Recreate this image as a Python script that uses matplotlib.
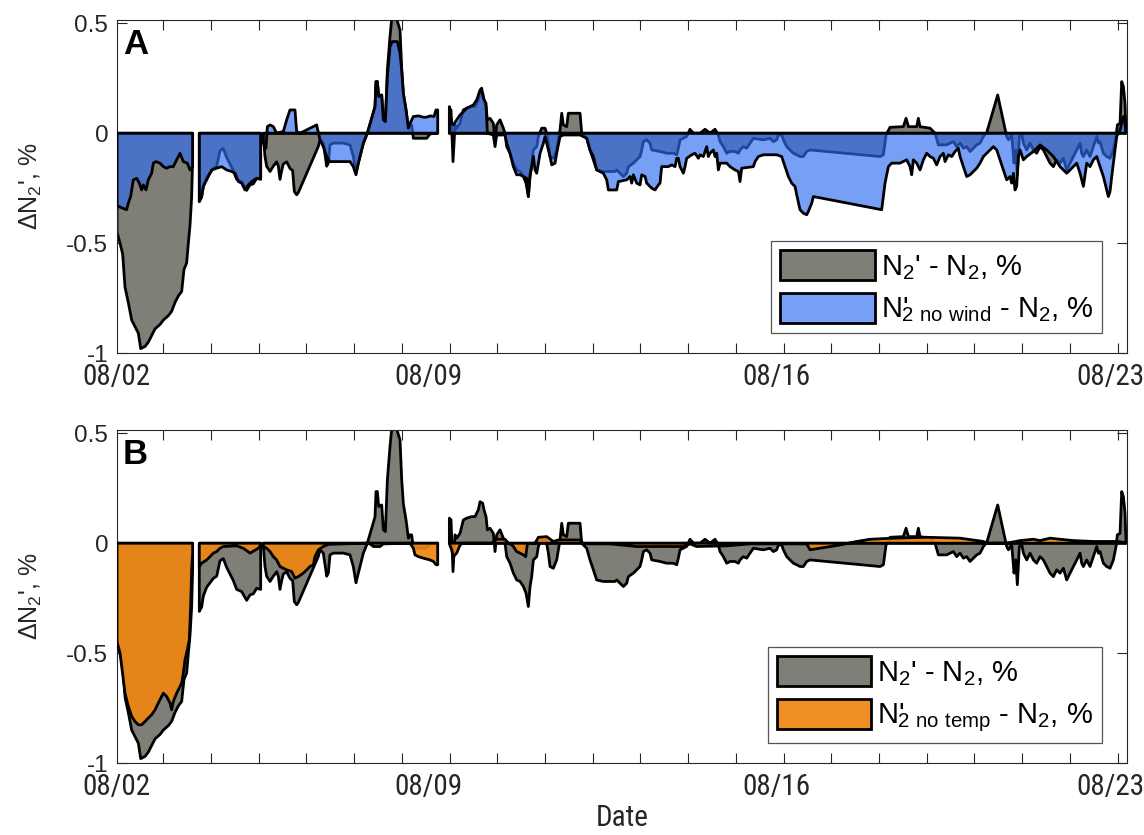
import numpy as np
import matplotlib
matplotlib.use("Agg")
import matplotlib.pyplot as plt
from matplotlib.patches import Polygon, Patch
from matplotlib.transforms import ScaledTranslation
from matplotlib import font_manager

nan = np.nan

# Time axis: days since 08/02 00:00.  NaN entries mark gaps in the record.
t_ref = [0.756, 0.816, 0.869, 0.916, 0.982, 1.05, 1.117, 1.184, 1.231, 1.318, 1.385, 1.452, 1.519,
         1.619, 1.686, 1.786, 1.853, 1.92, 1.987, 2.054, 2.10, 2.154, 2.188, 2.221, 2.254, 2.274, nan,
         2.408, 2.455, 2.489, 2.556, 2.623, 2.690, 2.757, 2.823, 2.89, 2.957, 3.024, 3.091, 3.158,
         3.258, 3.359, 3.426, 3.493, 3.56, 3.64, nan,
         3.694, 3.727, 3.76, 3.828, 3.894, 3.961, 3.995, 4.028, 4.062, 4.095, 4.162, 4.229, 4.282,
         4.316, 4.363, 4.396, 4.798, 4.831, 4.898, 4.966, 4.999, 5.032, 5.099, 5.30, 5.434, 5.50,
         5.554, 5.601, 5.702, 5.782, 5.936, 5.956, 5.983, 6.01, 6.07, 6.104, 6.144, 6.184, 6.237,
         6.271, 6.371, 6.438, 6.472, 6.505, 6.559, 6.606, 6.639, 6.672, 6.706, 6.974, 7.041, 7.195, nan,
         7.429, 7.462, 7.502, 7.543, 7.576, 7.643, 7.71, 7.777, 7.877, 7.944, 8.011, 8.045, 8.098,
         8.125, 8.165, 8.192, 8.245, 8.312, 8.346, 8.379, 8.446, 8.513, 8.547, 8.58, 8.647, 8.714,
         8.781, 8.848, 8.915, 8.968, 9.015, 9.049, 9.082, 9.116, 9.183, 9.216, 9.283, 9.35, 9.383,
         9.417, 9.45, 9.517, 9.584, 9.651, 9.685, 9.718, 9.785, 9.818, 10.053, 10.086, 10.187,
         10.253, 10.32, 10.387, 10.521, 10.755, 10.789, 10.856, 10.923, 10.99, 11.023, 11.124,
         11.19, 11.257, 11.291, 11.324, 11.391, 11.458, 11.492, 11.659, 11.793, 11.927, 11.994,
         12.027, 12.061, 12.194, 12.261, 12.328, 12.462, 12.563, 12.663, 12.763, 12.83, 12.864,
         12.931, 12.998, 13.065, 13.165, 13.232, 13.265, 13.332, 13.399, 13.466, 13.533, 13.734,
         13.868, 13.935, 14.002, 14.035, 14.102, 14.136, 14.203, 14.269, 14.336, 14.403, 14.47,
         14.537, 14.604, 14.671, 16.077, 16.144, 16.197, 16.277, 16.545, 16.599, 16.646, 16.813,
         16.846, 16.88, 17.081, 17.181, 17.248, 17.415, 17.549, 17.616, 17.683, 17.75, 17.817,
         17.884, 17.951, 18.018, 18.085, 18.152, 18.219, 18.439, 18.62, 18.654, 18.721, 18.767,
         18.801, 18.834, 18.874, 18.921, 18.955, 19.022, 19.089, 19.156, 19.222, 19.289, 19.356,
         19.423, 19.49, 19.557, 19.624, 19.691, 19.758, 19.825, 19.892, 19.959, 20.026, 20.093,
         20.126, 20.16, 20.227, 20.293, 20.36, 20.427, 20.461, 20.494, 20.561, 20.628, 20.695,
         20.762, 20.815, 20.842, 20.896, 20.929, 20.963, 20.996, 21.016]
dn_ref = [-0.45, -0.50, -0.55, -0.70, -0.77, -0.85, -0.88, -0.91, -0.98, -0.97, -0.95, -0.92, -0.89,
          -0.87, -0.85, -0.83, -0.81, -0.77, -0.74, -0.72, -0.62, -0.59, -0.50, -0.42, -0.29, -0.12, nan,
          -0.31, -0.29, -0.24, -0.20, -0.18, -0.16, -0.15, -0.08, -0.07, -0.11, -0.14, -0.17, -0.21,
          -0.22, -0.26, -0.235, -0.23, -0.205, -0.21, nan,
          -0.015, -0.106, -0.15, -0.174, -0.15, -0.13, -0.15, -0.21, -0.17, -0.14, -0.13, -0.16, -0.17,
          -0.265, -0.28, -0.27, -0.06, -0.03, -0.045, -0.15, -0.135, -0.053, -0.045, -0.045, -0.053, -0.106,
          -0.18, -0.136, -0.045, 0.0, 0.12, 0.235, 0.235, 0.167, 0.174, 0.061, 0.053, 0.288, 0.44,
          0.52, 0.52, 0.47, 0.29, 0.18, 0.106, 0.023, 0.038, 0.038, -0.023, -0.023, -0.003, 0.0, nan,
          0.114, 0.106, -0.129, 0.038, 0.023, 0.045, 0.106, 0.114, 0.121, 0.121, 0.152, 0.189, 0.182,
          0.152, 0.121, 0.061, 0.068, 0.045, -0.038, 0.038, 0.061, 0.023, 0.0, -0.061, -0.091, -0.136,
          -0.167, -0.174, -0.197, -0.227, -0.288, -0.197, -0.152, -0.076, -0.061, -0.015, 0.023, 0.023, 0.0,
          -0.045, -0.106, -0.114, -0.076, 0.015, 0.091, 0.038, 0.030, 0.091, 0.091, 0.0, -0.023,
          -0.076, -0.121, -0.167, -0.174, -0.174, -0.167, -0.182, -0.197, -0.182, -0.152, -0.136,
          -0.121, -0.106, -0.076, -0.038, -0.03, -0.045, -0.076, -0.083, -0.091, -0.091, -0.098,
          -0.068, -0.03, -0.015, 0.018, 0.0, 0.0, 0.018, 0.0, 0.018, -0.008, -0.038,
          -0.061, -0.091, -0.083, -0.083, -0.091, -0.076, -0.061, -0.068, -0.045, -0.023, -0.030,
          -0.023, -0.038, -0.030, -0.008, -0.008, -0.030, -0.061, -0.076, -0.091, -0.098, -0.106,
          -0.106, -0.083, -0.076, -0.106, -0.098, -0.008, 0.027, 0.030, 0.068, 0.030, 0.030,
          0.068, 0.030, 0.023, 0.0, -0.053, -0.053, -0.038, -0.061, -0.045, -0.068, -0.061,
          -0.083, -0.068, -0.053, -0.045, -0.015, 0.003, 0.174, -0.015, -0.030, -0.008, -0.136,
          -0.076, -0.189, -0.015, -0.003, -0.045, -0.076, -0.045, -0.076, -0.091, -0.061, -0.076,
          -0.106, -0.136, -0.152, -0.121, -0.136, -0.114, -0.167, -0.136, -0.106, -0.076, -0.045,
          -0.091, -0.106, -0.076, -0.106, -0.061, -0.015, -0.045, -0.038, -0.091, -0.106, -0.114,
          -0.076, -0.015, 0.038, 0.045, 0.235, 0.212, 0.136, 0.0]

t_nowind = [0.756, 0.869, 0.949, 0.982, 1.029, 1.083, 1.15, 1.203, 1.25, 1.284, 1.337, 1.384, 1.451,
            1.485, 1.538, 1.619, 1.686, 1.752, 1.819, 1.886, 1.953, 2.02, 2.087, 2.167, 2.221, 2.274, nan,
            2.408, 2.455, 2.489, 2.556, 2.656, 2.757, 2.857, 2.957, 3.058, 3.125, 3.192, 3.258, 3.325,
            3.392, 3.459, 3.56, 3.64, nan,
            3.694, 3.747, 3.774, 3.828, 3.894, 3.961, 4.095, 4.162, 4.229, 4.329, 4.363, 4.43, 4.764,
            4.831, 4.898, 4.966, 5.032, 5.434, 5.50, 5.554, 5.601, 5.702, 5.782, 5.936, 5.956, 5.983,
            6.01, 6.07, 6.104, 6.144, 6.184, 6.237, 6.284, 6.385, 6.438, 6.472, 6.505, 6.559, 6.606,
            6.639, 6.706, 6.806, 6.907, 6.974, 7.041, 7.121, 7.161, 7.195, nan,
            7.429, 7.476, 7.509, 7.576, 7.643, 7.71, 7.777, 7.844, 7.911, 7.978, 8.045, 8.078, 8.112,
            8.165, 8.192, 8.312, 8.346, 8.379, 8.547, 8.58, 8.647, 8.714, 8.781, 8.848, 8.915, 8.982,
            9.015, 9.049, 9.116, 9.149, 9.183, 9.25, 9.317, 9.35, 9.383, 9.45, 9.484, 9.551, 9.584,
            9.651, 9.718, 10.053, 10.187, 10.253, 10.32, 10.387, 10.521, 10.588, 10.622, 10.789,
            10.822, 10.99, 11.057, 11.09, 11.124, 11.19, 11.257, 11.291, 11.358, 11.391, 11.492,
            11.559, 11.626, 11.659, 11.692, 11.826, 11.893, 11.96, 11.994, 12.027, 12.061, 12.128,
            12.161, 12.194, 12.295, 12.362, 12.429, 12.462, 12.529, 12.596, 12.629, 12.663, 12.73,
            12.763, 12.797, 12.83, 12.864, 12.998, 13.065, 13.165, 13.232, 13.265, 13.299, 13.533,
            13.567, 13.634, 13.734, 14.002, 14.102, 14.169, 14.236, 14.303, 14.37, 14.403, 14.47,
            14.537, 14.604, 14.637, 14.705, 14.738, 16.11, 16.177, 16.244, 16.311, 16.478, 16.612,
            16.679, 16.712, 16.746, 16.813, 16.88, 16.947, 17.014, 17.081, 17.148, 17.214, 17.281,
            17.348, 17.382, 17.449, 17.516, 17.583, 17.649, 17.683, 17.75, 17.817, 17.884, 18.018,
            18.085, 18.152, 18.286, 18.352, 18.419, 18.486, 18.553, 18.62, 18.687, 18.72, 18.754,
            18.787, 18.821, 18.854, 18.888, 18.955, 19.022, 19.156, 19.289, 19.423, 19.557, 19.691,
            19.825, 19.892, 20.026, 20.093, 20.16, 20.227, 20.293, 20.36, 20.427, 20.494, 20.561,
            20.628, 20.661, 20.695, 20.729, 20.762, 20.795, 20.829, 20.896, 20.963, 20.996, 21.016]
dn_nowind = [-0.33, -0.341, -0.348, -0.318, -0.288, -0.212, -0.205, -0.227, -0.258, -0.235, -0.258,
             -0.212, -0.182, -0.136, -0.129, -0.136, -0.152, -0.159, -0.152, -0.152, -0.121, -0.091,
             -0.129, -0.136, -0.167, -0.152, nan,
             -0.311, -0.288, -0.242, -0.212, -0.167, -0.159, -0.152, -0.167, -0.174, -0.182, -0.22,
             -0.227, -0.258, -0.235, -0.22, -0.205, -0.205, nan,
             -0.045, -0.068, 0.03, 0.038, 0.03, 0.0, 0.008, 0.061, 0.106, 0.106, 0.008, 0.0, 0.038,
             -0.030, -0.061, -0.106, -0.129, -0.129, -0.152, -0.189, -0.136, -0.045, 0.0, 0.121, 0.235,
             0.235, 0.167, 0.174, 0.061, 0.053, 0.258, 0.394, 0.417, 0.417, 0.364, 0.288, 0.182, 0.106,
             0.023, 0.045, 0.076, 0.079, 0.073, 0.073, 0.079, 0.076, 0.106, 0.106, nan,
             0.121, 0.045, 0.038, 0.061, 0.083, 0.098, 0.114, 0.121, 0.129, 0.152, 0.197, 0.205, 0.159,
             0.136, 0.0, -0.008, -0.061, -0.008, -0.008, -0.045, -0.091, -0.152, -0.189, -0.189, -0.197,
             -0.205, -0.288, -0.189, -0.106, -0.167, -0.182, -0.091, -0.045, -0.015, -0.045, -0.106,
             -0.144, -0.136, -0.091, -0.015, -0.008, -0.008, -0.023, -0.076, -0.106, -0.167, -0.182,
             -0.212, -0.258, -0.258, -0.22, -0.212, -0.197, -0.227, -0.189, -0.227, -0.235, -0.189,
             -0.197, -0.227, -0.25, -0.258, -0.235, -0.227, -0.152, -0.152, -0.144, -0.152, -0.114,
             -0.114, -0.152, -0.182, -0.152, -0.114, -0.098, -0.091, -0.114, -0.098, -0.106, -0.061,
             -0.106, -0.091, -0.076, -0.106, -0.091, -0.167, -0.136, -0.136, -0.152, -0.167, -0.174,
             -0.22, -0.159, -0.152, -0.129, -0.106, -0.098, -0.098, -0.106, -0.152, -0.197, -0.227,
             -0.242, -0.28, -0.348, -0.364, -0.371, -0.356, -0.318, -0.288, -0.348, -0.227, -0.152,
             -0.136, -0.136, -0.121, -0.152, -0.189, -0.121, -0.136, -0.167, -0.121, -0.091, -0.106,
             -0.114, -0.144, -0.106, -0.091, -0.129, -0.098, -0.106, -0.083, -0.068, -0.106, -0.152,
             -0.197, -0.189, -0.159, -0.136, -0.106, -0.076, -0.061, -0.076, -0.121, -0.167, -0.212,
             -0.197, -0.227, -0.182, -0.258, -0.242, -0.106, -0.076, -0.121, -0.106, -0.083, -0.053,
             -0.076, -0.106, -0.152, -0.182, -0.167, -0.136, -0.182, -0.242, -0.136, -0.152, -0.121,
             -0.106, -0.152, -0.197, -0.258, -0.288, -0.265, -0.197, -0.136, -0.076, -0.015, 0.015,
             0.076, 0.045, 0.0]

t_notemp = [0.756, 0.816, 0.882, 0.916, 0.982, 1.05, 1.117, 1.184, 1.25, 1.318, 1.385, 1.452, 1.519,
            1.585, 1.652, 1.686, 1.752, 1.819, 1.853, 1.886, 1.953, 2.02, 2.054, 2.087, 2.121, 2.167,
            2.207, 2.234, 2.254, 2.274, nan,
            2.408, 2.455, 2.556, 2.623, 2.69, 2.757, 2.823, 2.89, 3.158, 3.292, 3.426, 3.593, 3.64, nan,
            3.694, 3.76, 3.828, 3.894, 3.961, 4.028, 4.095, 4.162, 4.263, 4.329, 4.396, 4.497, 4.631,
            4.698, 4.731, 4.798, 4.898, 4.999, 5.30, 5.782, 5.836, 5.903, 6.037, 6.104, 6.639, 6.706,
            6.739, 6.806, 6.907, 7.041, 7.108, 7.161, 7.195, nan,
            7.429, 7.476, 7.509, 7.576, 7.63, 7.677, 8.279, 8.379, 8.547, 8.614, 8.681, 8.714, 8.781,
            8.848, 8.915, 8.962, 8.995, 9.149, 9.216, 9.383, 9.517, 9.617, 10.053, 10.119, 10.655,
            11.19, 12.128, 12.261, 12.395, 12.998, 13.466, 14.604, 14.671, 15.273, 15.608, 15.876,
            16.344, 17.014, 17.683, 18.152, 18.219, 18.62, 18.888, 19.156, 19.289, 19.49, 19.691,
            19.959, 20.36, 20.829, 21.016]
dn_notemp = [-0.45, -0.50, -0.621, -0.682, -0.742, -0.788, -0.811, -0.826, -0.826, -0.811, -0.795,
             -0.78, -0.758, -0.727, -0.697, -0.682, -0.697, -0.727, -0.758, -0.72, -0.682, -0.652,
             -0.636, -0.591, -0.53, -0.485, -0.439, -0.288, -0.121, -0.045, nan,
             -0.106, -0.091, -0.076, -0.061, -0.045, -0.038, -0.023, -0.015, -0.012, -0.023, -0.045,
             -0.023, -0.008, nan,
             -0.015, -0.023, -0.038, -0.061, -0.076, -0.106, -0.114, -0.121, -0.129, -0.159, -0.152,
             -0.136, -0.106, -0.098, -0.061, -0.030, -0.015, -0.005, -0.003, 0.0, -0.003, -0.015,
             -0.015, -0.003, 0.0, -0.023, -0.053, -0.061, -0.068, -0.076, -0.083, -0.098, -0.098, nan,
             -0.003, -0.030, -0.061, -0.045, -0.015, 0.0, 0.0, 0.018, 0.018, 0.0, -0.008, -0.015,
             -0.038, -0.045, -0.053, -0.061, -0.003, 0.0, 0.027, 0.030, 0.008, 0.015, 0.015, -0.003,
             -0.003, -0.015, -0.015, -0.003, -0.015, -0.012, -0.003, -0.003, -0.030, -0.008, 0.008,
             0.018, 0.023, 0.027, 0.023, 0.008, 0.0, 0.0, 0.012, 0.018, 0.012, 0.023, 0.018, 0.012,
             0.008, 0.008, 0.003]

# Axis ticks
x_limits = (0.749, 21.03)
y_limits = (-1.0, 0.515)
date_ticks = [0.749, 7.0, 14.0, 21.0]
date_labels = ["08/02", "08/09", "08/16", "08/23"]
minor_ticks = [1.685 + 0.958 * k for k in range(21)]
y_ticks = [-1.0, -0.5, 0.0, 0.5]
y_ticklabels = ["-1", "-0.5", "0", "0.5"]

GRAY = "#7f7f77"
BLUE = (0.184, 0.424, 0.941, 0.65)
ORANGE = (0.93, 0.52, 0.07, 0.93)
AXCOL = "#262626"

plt.rcParams["font.family"] = ["Liberation Sans", "DejaVu Sans"]
plt.rcParams["mathtext.default"] = "regular"
plt.rcParams["axes.unicode_minus"] = False

# Narrow face for the date axis, if one is installed
entries = font_manager.fontManager.ttflist
names = {f.name for f in entries}
date_font = dict(fontfamily="Liberation Sans", fontsize=15.5)
for cand in ["Liberation Sans Narrow", "Roboto Condensed", "Open Sans Condensed"]:
    if cand in names:
        date_font = dict(fontfamily=cand, fontsize=21)
        break
else:
    if any(f.name == "DejaVu Sans" and str(f.stretch) == "condensed" for f in entries):
        date_font = dict(fontfamily="DejaVu Sans", fontstretch="condensed", fontsize=17)


def segments(t, v):
    t = np.asarray(t, float)
    v = np.asarray(v, float)
    cuts = list(np.where(np.isnan(v))[0]) + [len(v)]
    start = 0
    for c in cuts:
        if c - start > 0:
            yield t[start:c], v[start:c]
        start = c + 1


def draw_area(ax, t, v, face, z):
    for ts, vs in segments(t, v):
        xs = np.r_[ts[0], ts, ts[-1]]
        ys = np.r_[0.0, vs, 0.0]
        ax.add_patch(Polygon(np.column_stack([xs, ys]), closed=True, facecolor=face,
                             edgecolor="black", linewidth=2.0, joinstyle="round", zorder=z))


def style_axes(ax, letter):
    ax.set_xlim(*x_limits)
    ax.set_ylim(*y_limits)
    ax.set_xticks(date_ticks)
    ax.set_xticklabels(date_labels, **date_font)
    ax.set_xticks(minor_ticks, minor=True)
    ax.set_yticks(y_ticks)
    ax.set_yticklabels(y_ticklabels, va="center_baseline")
    ax.tick_params(which="both", direction="in", top=True, right=True, color=AXCOL,
                   labelcolor=AXCOL, width=0.8)
    ax.tick_params(axis="x", which="major", length=0, pad=7)
    ax.tick_params(axis="x", which="minor", length=7)
    ax.tick_params(axis="y", which="major", length=7, labelsize=17.5, pad=6)
    for s in ax.spines.values():
        s.set_color(AXCOL)
        s.set_linewidth(0.8)
    ax.set_ylabel("ΔN$_2$', %", fontsize=18, color=AXCOL, labelpad=16)
    ax.text(0.006, 0.975, letter, transform=ax.transAxes, ha="left", va="top",
            fontsize=25, fontweight="bold", color="black", zorder=10)
    # keep the last date label inside the figure edge
    last = ax.get_xticklabels()[-1]
    last.set_horizontalalignment("right")
    last.set_transform(last.get_transform() + ScaledTranslation(19 / 100, 0, fig.dpi_scale_trans))


fig = plt.figure(figsize=(11.44, 8.35), dpi=100)
axA = fig.add_axes([0.1020, 0.5772, 0.8829, 0.3988])
axB = fig.add_axes([0.1020, 0.0862, 0.8829, 0.3988])

draw_area(axA, t_ref, dn_ref, GRAY, 2)
draw_area(axA, t_nowind, dn_nowind, BLUE, 3)
draw_area(axB, t_ref, dn_ref, GRAY, 2)
draw_area(axB, t_notemp, dn_notemp, ORANGE, 3)

style_axes(axA, "A")
style_axes(axB, "B")
date_family = {k: v for k, v in date_font.items() if k != "fontsize"}
axB.set_xlabel("Date", fontsize=21, color=AXCOL, labelpad=2, **date_family)

lab_ref = "N$_2$' - N$_2$, %"
lab_wind = "N'$_{\\!\\!2\\ no\\ wind}$ - N$_2$, %"
lab_temp = "N'$_{\\!\\!2\\ no\\ temp}$ - N$_2$, %"

for ax, face, lab in [(axA, BLUE, lab_wind), (axB, ORANGE, lab_temp)]:
    handles = [Patch(facecolor=GRAY, edgecolor="black", linewidth=2.0, label=lab_ref),
               Patch(facecolor=face, edgecolor="black", linewidth=2.0, label=lab)]
    leg = ax.legend(handles=handles, loc="lower right", bbox_to_anchor=(0.9755, 0.06),
                    fontsize=21, frameon=True, fancybox=False, framealpha=1,
                    edgecolor="#555555", handlelength=3.25, handleheight=1.2,
                    labelspacing=0.38, borderpad=0.3, handletextpad=0.2, borderaxespad=0)
    leg.get_frame().set_linewidth(0.9)
    leg.set_zorder(20)

fig.savefig("out.png", dpi=100, facecolor="white")
